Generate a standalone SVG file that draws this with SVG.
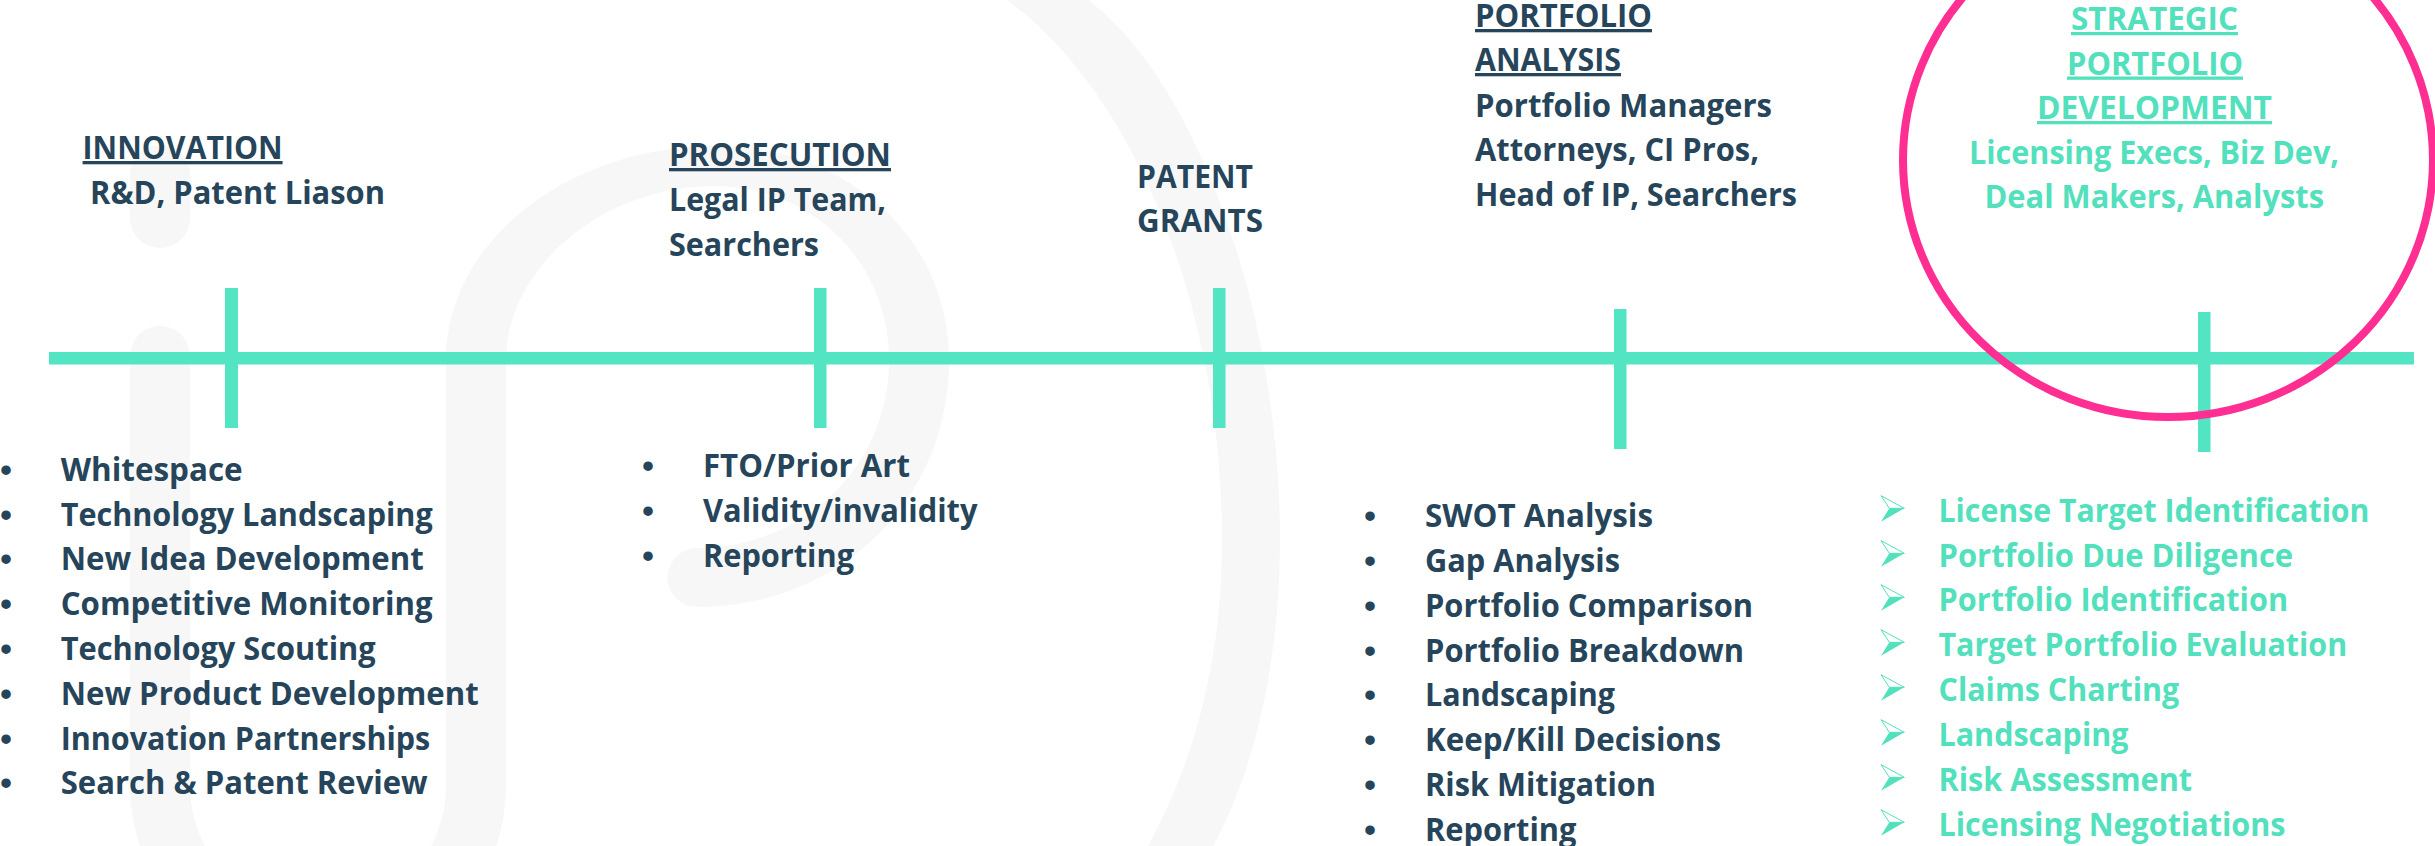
<svg xmlns="http://www.w3.org/2000/svg" width="2435" height="846" viewBox="0 0 2435 846">
<style>
.wm{fill:#f7f7f7;stroke:none}
.wl{fill:none;stroke:#f7f7f7;stroke-width:60;stroke-linecap:round}
.bar{fill:#53e4c3}
text{font-family:"Open Sans","Liberation Sans",sans-serif;font-weight:700;font-size:33px}
.d{fill:#26455a}
.t{fill:#53e0bd}
.u{text-decoration:underline}
.b{font-family:"Liberation Sans",sans-serif;font-weight:700;text-anchor:middle}
</style>
<defs>
<g id="arrow-bullet">
<path d="M8.300 12.600H23.300L0 26Z" fill="#53e0bd"/>
<path d="M8.300 12.600L0 0L23.300 12.600Z" fill="none" stroke="#53e0bd" stroke-width="1"/>
</g>
</defs>
<rect width="2435" height="846" fill="#ffffff"/>
<g id="watermark">
<path class="wl" d="M160 175V218"/>
<path class="wl" d="M160 356V786A158 158 0 0 0 476 786V360" stroke-linecap="butt"/>
<path class="wm" d="M446 360C446 240 570 146 715 146C850 146 949 240 949 360C949 500 840 607 697 607A29.500 29.500 0 0 1 697 548C800 548 889 470 889 360C889 260 810 186 715 186C600 186 506 270 506 360Z"/>
<path class="wm" d="M1007 0C1130 90 1222 300 1222 540C1222 660 1195 760 1148 846H1213C1255 770 1280 660 1280 540C1280 300 1190 75 1088 0Z"/>
</g>
<g id="connectors">
<rect class="bar" x="49" y="352" width="2365" height="12.500"/>
<rect class="bar" x="225" y="288" width="13" height="140"/>
<rect class="bar" x="814" y="288" width="12.500" height="140"/>
<rect class="bar" x="1213" y="288" width="12.500" height="140"/>
<rect class="bar" x="1614" y="309" width="12.500" height="140"/>
<rect class="bar" x="2198" y="312" width="12.500" height="140"/>
</g>
<g id="innovation-head">
<text class="d u" x="82.600" y="159" textLength="200" lengthAdjust="spacingAndGlyphs">INNOVATION</text>
<text class="d" x="90" y="204" textLength="295" lengthAdjust="spacingAndGlyphs">R&amp;D, Patent Liason</text>
</g>
<g id="innovation-list">
<text class="d b" x="6" y="481">•</text><text class="d" x="60.700" y="481" textLength="182" lengthAdjust="spacingAndGlyphs">Whitespace</text>
<text class="d b" x="6" y="526">•</text><text class="d" x="60.700" y="526" textLength="372" lengthAdjust="spacingAndGlyphs">Technology Landscaping</text>
<text class="d b" x="6" y="570">•</text><text class="d" x="60.700" y="570" textLength="363" lengthAdjust="spacingAndGlyphs">New Idea Development</text>
<text class="d b" x="6" y="615">•</text><text class="d" x="60.700" y="615" textLength="372" lengthAdjust="spacingAndGlyphs">Competitive Monitoring</text>
<text class="d b" x="6" y="660">•</text><text class="d" x="60.700" y="660" textLength="315" lengthAdjust="spacingAndGlyphs">Technology Scouting</text>
<text class="d b" x="6" y="705">•</text><text class="d" x="60.700" y="705" textLength="418" lengthAdjust="spacingAndGlyphs">New Product Development</text>
<text class="d b" x="6" y="750">•</text><text class="d" x="60.700" y="750" textLength="369.500" lengthAdjust="spacingAndGlyphs">Innovation Partnerships</text>
<text class="d b" x="6" y="794">•</text><text class="d" x="60.700" y="794" textLength="367" lengthAdjust="spacingAndGlyphs">Search &amp; Patent Review</text>
</g>
<g id="prosecution-head">
<text class="d u" x="669" y="166" textLength="222" lengthAdjust="spacingAndGlyphs">PROSECUTION</text>
<text class="d" x="669" y="211" textLength="217" lengthAdjust="spacingAndGlyphs">Legal IP Team,</text>
<text class="d" x="669" y="256" textLength="150" lengthAdjust="spacingAndGlyphs">Searchers</text>
</g>
<g id="prosecution-list">
<text class="d b" x="648" y="477">•</text><text class="d" x="703" y="477" textLength="207" lengthAdjust="spacingAndGlyphs">FTO/Prior Art</text>
<text class="d b" x="648" y="522">•</text><text class="d" x="703" y="522" textLength="274.500" lengthAdjust="spacingAndGlyphs">Validity/invalidity</text>
<text class="d b" x="648" y="567">•</text><text class="d" x="703" y="567" textLength="151" lengthAdjust="spacingAndGlyphs">Reporting</text>
</g>
<g id="patent-grants">
<text class="d" x="1137" y="188" textLength="116" lengthAdjust="spacingAndGlyphs">PATENT</text>
<text class="d" x="1137" y="232" textLength="126" lengthAdjust="spacingAndGlyphs">GRANTS</text>
</g>
<g id="portfolio-head">
<text class="d u" x="1475" y="27" textLength="177" lengthAdjust="spacingAndGlyphs">PORTFOLIO</text>
<text class="d u" x="1475" y="71" textLength="146" lengthAdjust="spacingAndGlyphs">ANALYSIS</text>
<text class="d" x="1475" y="116.500" textLength="297" lengthAdjust="spacingAndGlyphs">Portfolio Managers</text>
<text class="d" x="1475" y="161" textLength="284" lengthAdjust="spacingAndGlyphs">Attorneys, CI Pros,</text>
<text class="d" x="1475" y="206" textLength="322" lengthAdjust="spacingAndGlyphs">Head of IP, Searchers</text>
</g>
<g id="portfolio-list">
<text class="d b" x="1370" y="527">•</text><text class="d" x="1425" y="527" textLength="228" lengthAdjust="spacingAndGlyphs">SWOT Analysis</text>
<text class="d b" x="1370" y="572">•</text><text class="d" x="1425" y="572" textLength="195" lengthAdjust="spacingAndGlyphs">Gap Analysis</text>
<text class="d b" x="1370" y="617">•</text><text class="d" x="1425" y="617" textLength="328" lengthAdjust="spacingAndGlyphs">Portfolio Comparison</text>
<text class="d b" x="1370" y="662">•</text><text class="d" x="1425" y="662" textLength="319" lengthAdjust="spacingAndGlyphs">Portfolio Breakdown</text>
<text class="d b" x="1370" y="706">•</text><text class="d" x="1425" y="706" textLength="190" lengthAdjust="spacingAndGlyphs">Landscaping</text>
<text class="d b" x="1370" y="751">•</text><text class="d" x="1425" y="751" textLength="296" lengthAdjust="spacingAndGlyphs">Keep/Kill Decisions</text>
<text class="d b" x="1370" y="796">•</text><text class="d" x="1425" y="796" textLength="231" lengthAdjust="spacingAndGlyphs">Risk Mitigation</text>
<text class="d b" x="1370" y="841">•</text><text class="d" x="1425" y="841" textLength="151.500" lengthAdjust="spacingAndGlyphs">Reporting</text>
</g>
<g id="strategic-head">
<text class="t u" x="2071" y="30" textLength="167" lengthAdjust="spacingAndGlyphs">STRATEGIC</text>
<text class="t u" x="2067" y="74.500" textLength="176" lengthAdjust="spacingAndGlyphs">PORTFOLIO</text>
<text class="t u" x="2037" y="119" textLength="235" lengthAdjust="spacingAndGlyphs">DEVELOPMENT</text>
<text class="t" x="1969" y="163.500" textLength="370" lengthAdjust="spacingAndGlyphs">Licensing Execs, Biz Dev,</text>
<text class="t" x="1984.500" y="208" textLength="339.500" lengthAdjust="spacingAndGlyphs">Deal Makers, Analysts</text>
</g>
<g id="strategic-list">
<use href="#arrow-bullet" x="1881" y="495.700"/><text class="t" x="1938.500" y="522" textLength="431" lengthAdjust="spacingAndGlyphs">License Target Identification</text>
<use href="#arrow-bullet" x="1881" y="540.700"/><text class="t" x="1938.500" y="567" textLength="354.600" lengthAdjust="spacingAndGlyphs">Portfolio Due Diligence</text>
<use href="#arrow-bullet" x="1881" y="584.700"/><text class="t" x="1938.500" y="611" textLength="349.600" lengthAdjust="spacingAndGlyphs">Portfolio Identification</text>
<use href="#arrow-bullet" x="1881" y="629.700"/><text class="t" x="1938.500" y="656" textLength="408.700" lengthAdjust="spacingAndGlyphs">Target Portfolio Evaluation</text>
<use href="#arrow-bullet" x="1881" y="674.700"/><text class="t" x="1938.500" y="701" textLength="240.700" lengthAdjust="spacingAndGlyphs">Claims Charting</text>
<use href="#arrow-bullet" x="1881" y="719.700"/><text class="t" x="1938.500" y="746" textLength="189.900" lengthAdjust="spacingAndGlyphs">Landscaping</text>
<use href="#arrow-bullet" x="1881" y="764.700"/><text class="t" x="1938.500" y="791" textLength="253.600" lengthAdjust="spacingAndGlyphs">Risk Assessment</text>
<use href="#arrow-bullet" x="1881" y="809.700"/><text class="t" x="1938.500" y="836" textLength="347" lengthAdjust="spacingAndGlyphs">Licensing Negotiations</text>
</g>
<g id="highlight">
<ellipse cx="2168" cy="160" rx="265" ry="257" fill="none" stroke="#ff2e92" stroke-width="8"/>
</g>
</svg>
